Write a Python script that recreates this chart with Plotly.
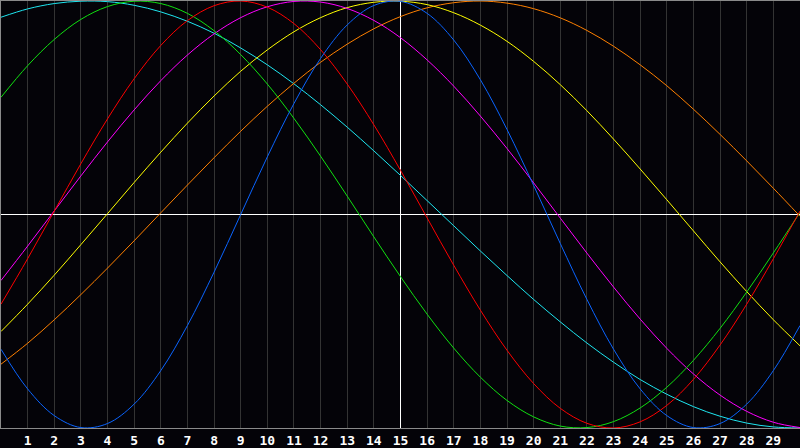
import plotly.graph_objects as go

# Days shown on the x axis (0..30); labels for days 1..29
days = list(range(0, 31))
tick_days = list(range(1, 30))
tick_labels = [str(d) for d in tick_days]
today = 15

# Biorhythm values per day
physical = [-0.631, -0.817, -0.942, -0.998, -0.979, -0.888, -0.731, -0.520, -0.270, 0.000,
            0.270, 0.520, 0.731, 0.888, 0.979, 0.998, 0.942, 0.817, 0.631, 0.398,
            0.136, -0.136, -0.398, -0.631, -0.817, -0.942, -0.998, -0.979, -0.888, -0.731,
            -0.520]
emotional = [-0.420, -0.207, 0.016, 0.238, 0.448, 0.636, 0.792, 0.908, 0.978, 1.000,
             0.971, 0.894, 0.772, 0.611, 0.420, 0.207, -0.016, -0.238, -0.448, -0.636,
             -0.792, -0.908, -0.978, -1.000, -0.971, -0.894, -0.772, -0.611, -0.420, -0.207,
             0.016]
intellectual = [0.549, 0.697, 0.820, 0.914, 0.974, 0.999, 0.988, 0.942, 0.861, 0.749,
                0.611, 0.450, 0.273, 0.086, -0.105, -0.291, -0.467, -0.626, -0.762, -0.871,
                -0.948, -0.991, -0.998, -0.970, -0.906, -0.809, -0.683, -0.533, -0.363, -0.180,
                0.010]
intuitive = [-0.309, -0.148, 0.017, 0.181, 0.340, 0.490, 0.627, 0.747, 0.846, 0.922,
             0.973, 0.998, 0.995, 0.965, 0.909, 0.828, 0.724, 0.601, 0.461, 0.309,
             0.148, -0.017, -0.181, -0.340, -0.490, -0.627, -0.747, -0.846, -0.922, -0.973,
             -0.998]
aesthetic = [-0.548, -0.420, -0.284, -0.141, 0.004, 0.150, 0.292, 0.428, 0.555, 0.671,
             0.771, 0.856, 0.922, 0.969, 0.994, 0.999, 0.983, 0.945, 0.887, 0.811,
             0.717, 0.608, 0.486, 0.353, 0.213, 0.069, -0.077, -0.222, -0.361, -0.493,
             -0.615]
awareness = [-0.701, -0.603, -0.493, -0.375, -0.251, -0.123, 0.008, 0.138, 0.266, 0.390,
             0.507, 0.615, 0.713, 0.798, 0.870, 0.927, 0.968, 0.992, 1.000, 0.990,
             0.964, 0.921, 0.862, 0.788, 0.701, 0.603, 0.493, 0.375, 0.251, 0.123,
             -0.008]
spiritual = [0.924, 0.963, 0.988, 0.999, 0.997, 0.980, 0.949, 0.905, 0.849, 0.780,
             0.701, 0.612, 0.514, 0.409, 0.298, 0.183, 0.065, -0.053, -0.171, -0.286,
             -0.398, -0.503, -0.602, -0.692, -0.773, -0.842, -0.900, -0.945, -0.977, -0.995,
             -1.000]

series = [
    ("Spiritual", spiritual, "#1ee6f0"),
    ("Awareness", awareness, "#ff8000"),
    ("Aesthetic", aesthetic, "#ffff00"),
    ("Intuitive", intuitive, "#ff00ff"),
    ("Intellectual", intellectual, "#10e010"),
    ("Emotional", emotional, "#ff0000"),
    ("Physical", physical, "#0a64ff"),
]

BG = "#040308"

fig = go.Figure()

# today marker (drawn first, below the curves)
fig.add_trace(go.Scatter(
    x=[today, today], y=[-1.0, 1.0], mode="lines", name="Today",
    line=dict(color="#ffffff", width=1), hoverinfo="skip",
))

for name, vals, color in series:
    fig.add_trace(go.Scatter(
        x=days, y=vals, mode="lines", name=name,
        line=dict(color=color, width=1, shape="spline", smoothing=1.0),
        hoverinfo="skip",
    ))

fig.update_layout(
    width=800, height=448,
    margin=dict(l=1, r=0, t=1, b=20),
    paper_bgcolor=BG, plot_bgcolor=BG,
    showlegend=False,
    xaxis=dict(
        range=[0, 30], tickvals=tick_days, ticktext=tick_labels,
        showgrid=True, gridcolor="#333333", gridwidth=1,
        showline=True, linecolor="#8a8a8a", linewidth=1, mirror=True,
        zeroline=False, ticks="", ticklen=0,
        tickfont=dict(family="DejaVu Sans Mono", size=13, color="#ffffff", weight="bold"),
        fixedrange=True,
    ),
    yaxis=dict(
        range=[-1.0, 1.0], showticklabels=False, showgrid=False,
        zeroline=True, zerolinecolor="#ffffff", zerolinewidth=1,
        showline=True, linecolor="#8a8a8a", linewidth=1, mirror=False,
        ticks="", fixedrange=True,
    ),
)

fig.write_html(
    "out.html",
    config={"displayModeBar": False},
    post_script="document.body.style.margin='0';document.body.style.background='#040308';",
)
